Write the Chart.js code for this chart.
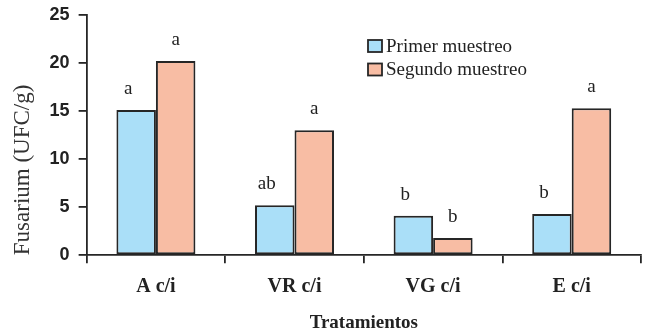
<!DOCTYPE html>
<html>
<head>
<meta charset="utf-8">
<script src="https://cdn.jsdelivr.net/npm/chart.js@4"></script>
<style>
  html, body { margin: 0; padding: 0; background: #fff; }
  #wrap { width: 645px; height: 335px; }
</style>
</head>
<body>
<div id="wrap"><canvas id="c" width="645" height="335"></canvas></div>
<script>
// Treatments and Fusarium counts (UFC/g) for the two samplings
const categories = ['A c/i', 'VR c/i', 'VG c/i', 'E c/i'];
const primerMuestreo = [15.1, 5.2, 4.1, 4.3];
const segundoMuestreo = [20.2, 13.0, 1.8, 15.3];
// Significance letters shown above each bar
const letrasPrimer = ['a', 'ab', 'b', 'b'];
const letrasSegundo = ['a', 'a', 'b', 'a'];
const yTicks = [0, 5, 10, 15, 20, 25];

const SERIF = '"Liberation Serif", "Times New Roman", serif';
const SANS = '"Liberation Sans", Arial, sans-serif';
const EDGE = '#262626';

// Letters above bars
const letterPlugin = {
  id: 'letters',
  afterDatasetsDraw(chart) {
    const ctx = chart.ctx;
    const sets = [letrasPrimer, letrasSegundo];
    const shift = [-8, 0];
    ctx.save();
    ctx.font = '19px ' + SERIF;
    ctx.fillStyle = '#222';
    ctx.textAlign = 'center';
    ctx.textBaseline = 'alphabetic';
    sets.forEach((letters, di) => {
      chart.getDatasetMeta(di).data.forEach((bar, i) => {
        ctx.fillText(letters[i], bar.x + shift[di], bar.y - 16);
      });
    });
    ctx.restore();
  }
};

// Legend drawn inside the plot area
const boxLegend = {
  id: 'boxLegend',
  afterDraw(chart) {
    const ctx = chart.ctx;
    const x0 = 368, y0 = 46, gap = 23.5;
    ctx.save();
    ctx.font = '19px ' + SERIF;
    ctx.textBaseline = 'middle';
    ctx.textAlign = 'left';
    chart.data.datasets.forEach((ds, i) => {
      const y = y0 + i * gap;
      ctx.fillStyle = ds.backgroundColor;
      ctx.fillRect(x0, y - 6, 14, 12);
      ctx.lineWidth = 1.8;
      ctx.strokeStyle = EDGE;
      ctx.strokeRect(x0, y - 6, 14, 12);
      ctx.fillStyle = '#222';
      ctx.fillText(ds.label, x0 + 18, y + 1);
    });
    ctx.restore();
  }
};

function draw() {
  new Chart(document.getElementById('c'), {
    type: 'bar',
    data: {
      labels: categories,
      datasets: [
        {
          label: 'Primer muestreo',
          data: primerMuestreo,
          backgroundColor: '#aadff8',
          borderColor: EDGE,
          borderWidth: 2,
          borderSkipped: false
        },
        {
          label: 'Segundo muestreo',
          data: segundoMuestreo,
          backgroundColor: '#f8bda4',
          borderColor: EDGE,
          borderWidth: 2,
          borderSkipped: false
        }
      ]
    },
    options: {
      responsive: false,
      animation: false,
      devicePixelRatio: 1,
      layout: { padding: { top: 0, right: 4, left: 9, bottom: 1 } },
      datasets: { bar: { barPercentage: 1.0, categoryPercentage: 0.57 } },
      plugins: {
        legend: { display: false },
        tooltip: { enabled: false }
      },
      scales: {
        x: {
          offset: true,
          grid: {
            offset: true,
            drawOnChartArea: false,
            drawTicks: true,
            tickLength: 8,
            color: EDGE,
            lineWidth: 1.8
          },
          border: { display: true, color: EDGE, width: 1.8 },
          ticks: {
            color: '#222',
            padding: 12,
            font: { family: SERIF, size: 20, weight: 'bold' }
          },
          title: {
            display: true,
            text: 'Tratamientos',
            color: '#222',
            padding: { top: 0, bottom: 0 },
            font: { family: SERIF, size: 19, weight: 'bold' }
          }
        },
        y: {
          min: 0,
          max: 25,
          afterBuildTicks(scale) {
            scale.ticks = yTicks.map(v => ({ value: v }));
          },
          afterFit(scale) {
            scale.paddingTop = 15;
          },
          grid: {
            drawOnChartArea: false,
            drawTicks: true,
            tickLength: 8,
            color: EDGE,
            lineWidth: 1.8
          },
          border: { display: true, color: EDGE, width: 1.8 },
          ticks: {
            color: '#222',
            padding: 9,
            font: { family: SANS, size: 18, weight: 'bold' }
          },
          title: {
            display: true,
            text: 'Fusarium (UFC/g)',
            align: 'start',
            color: '#333',
            padding: { top: 0, bottom: 4 },
            font: { family: SERIF, size: 23 }
          }
        }
      }
    },
    plugins: [letterPlugin, boxLegend]
  });
}

Promise.all([
  document.fonts.load('bold 18px "Liberation Sans"'),
  document.fonts.load('19px "Liberation Serif"'),
  document.fonts.load('bold 20px "Liberation Serif"')
]).then(draw, draw);
</script>
</body>
</html>
